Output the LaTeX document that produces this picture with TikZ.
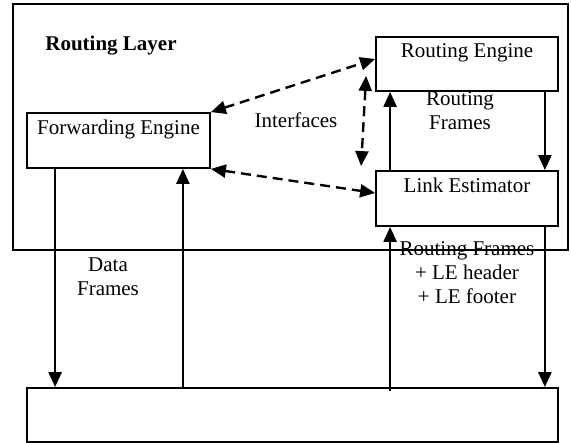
\documentclass[tikz,border=0pt]{standalone}
\usepackage{fontspec}
\setmainfont{Liberation Serif}
\usetikzlibrary{arrows.meta,calc}
\newcommand{\diagsize}{\fontsize{21}{24}\selectfont}
\tikzset{
  box/.style={draw, line width=1.8pt, inner sep=0pt, text height=14pt, text depth=26pt},
  flow/.style={-{Triangle[length=15pt,width=13pt]}, line width=2.4pt},
  iface/.style={{Triangle[length=15pt,width=13pt]}-{Triangle[length=15pt,width=13pt]}, line width=2.4pt, dash pattern=on 10pt off 6pt},
}

\begin{document}
\begin{tikzpicture}[x=1pt, y=-1pt, every node/.style={font=\diagsize}]
  \useasboundingbox (0,0) rectangle (571,443);
  \node[draw, line width=1.8pt, inner sep=0pt, minimum width=555pt, minimum height=246pt] (layer) at (290.5,127) {};
  \node[font=\diagsize\bfseries] (title) at (111,46) {Routing Layer};
  \node[box, minimum width=183pt, minimum height=55pt] (fe) at (118.5,140.5) {Forwarding Engine};
  \node[box, minimum width=182pt, minimum height=54pt] (re) at (467,64) {Routing Engine};
  \node[box, minimum width=182pt, minimum height=55pt] (le) at (467,198.5) {Link Estimator};
  \node[draw, line width=1.8pt, inner sep=0pt, minimum width=531pt, minimum height=54pt] (mac) at (292.5,415) {};

  \node (iflabel) at (296,120) {Interfaces};
  \node[align=center] (rflabel) at (460,111) {Routing\\Frames};
  \node[align=center] (dflabel) at (108,277) {Data\\Frames};
  \node[align=center] (lelabel) at (467,273) {Routing Frames\\+ LE header\\+ LE footer};

  \draw[iface] (fe.north east) -- ([yshift=5pt]re.west);
  \draw[iface] (fe.south east) -- ([yshift=5.5pt]le.west);
  \draw[iface] ([xshift=-9pt,yshift=16pt]re.south west) -- ([xshift=-14pt,yshift=4pt]le.north west);

  \coordinate (fdown) at ([xshift=29pt]fe.south west);
  \coordinate (fup) at ([xshift=-28pt]fe.south east);
  \coordinate (lup) at ([xshift=15pt]le.south west);
  \coordinate (ldown) at ([xshift=-14pt]le.south east);
  \coordinate (rup) at ([xshift=15pt]le.north west);
  \coordinate (rdown) at ([xshift=-14pt]re.south east);
  \draw[flow] (fdown) -- (fdown |- mac.north);
  \draw[flow] (fup |- mac.north) -- (fup);
  \draw[flow] ([yshift=-4pt]lup |- mac.north) -- (lup);
  \draw[flow] (ldown) -- (ldown |- mac.north);
  \draw[flow] (rup) -- (rup |- re.south);
  \draw[flow] (rdown) -- (rdown |- le.north);
\end{tikzpicture}
\end{document}
